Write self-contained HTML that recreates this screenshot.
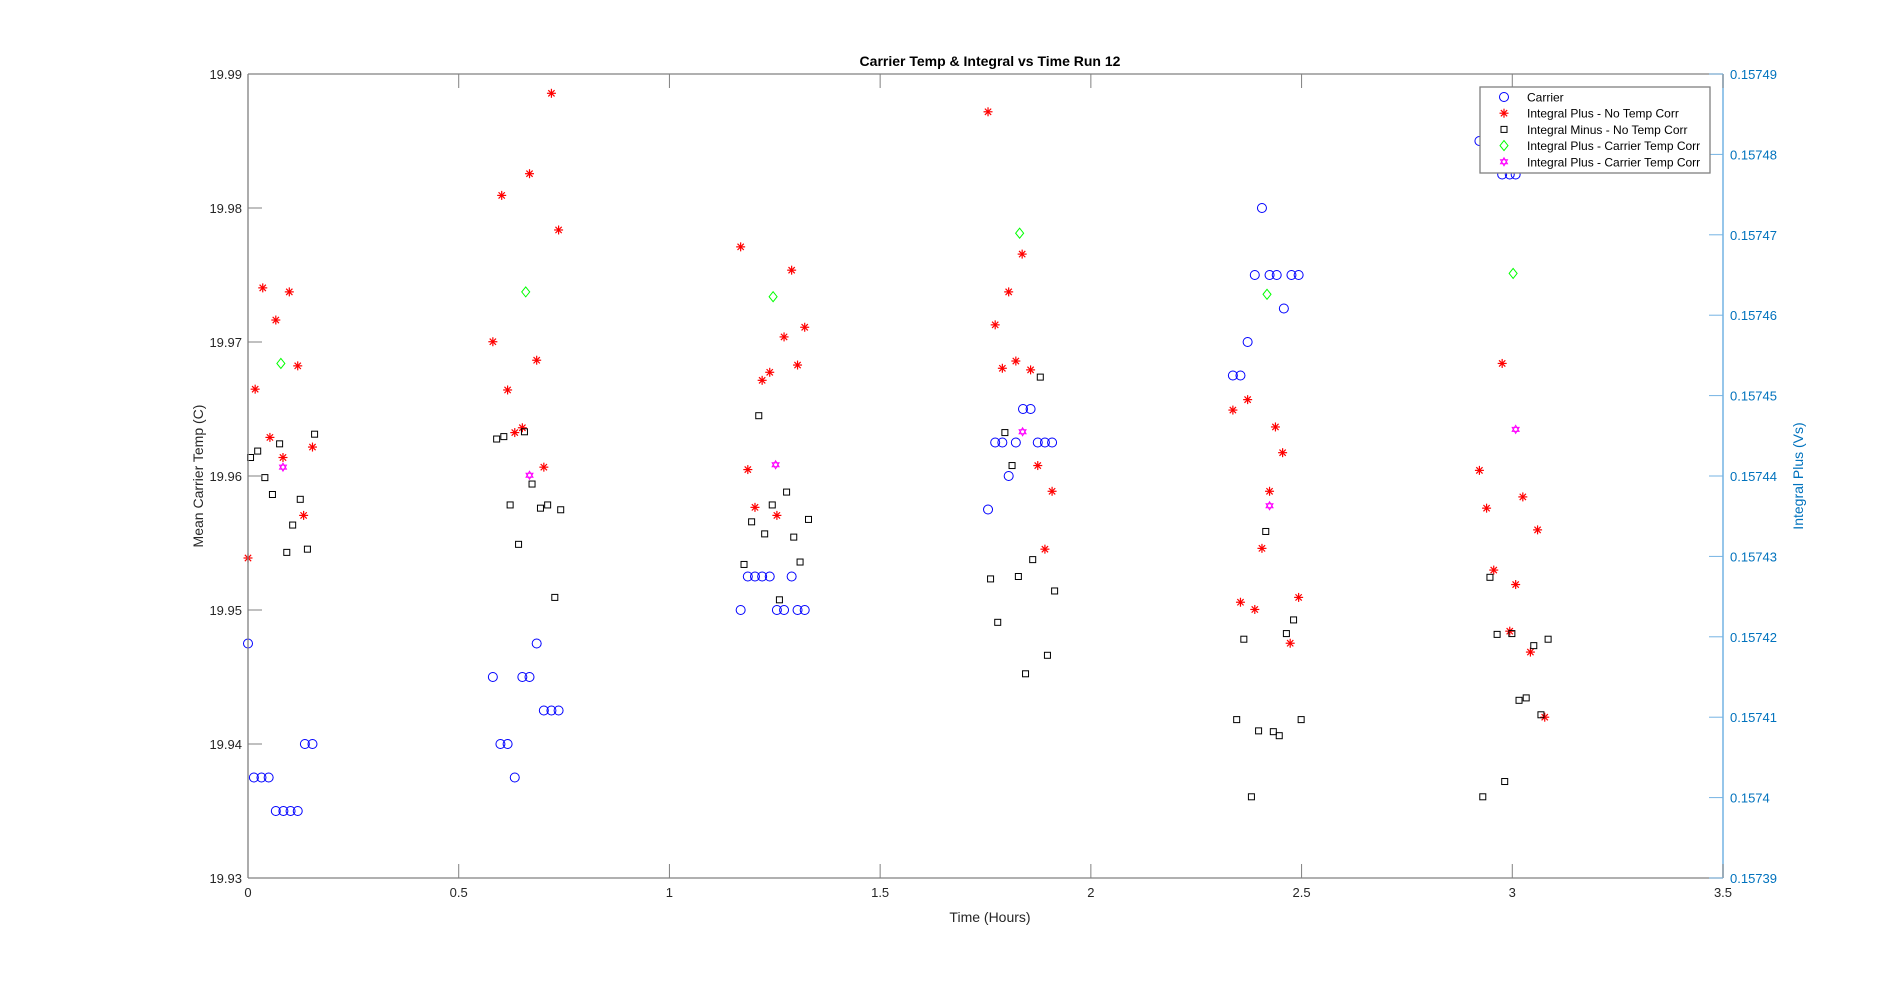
<!DOCTYPE html>
<html><head><meta charset="utf-8"><style>
html,body{margin:0;padding:0;background:#fff;}
svg{display:block;font-family:"Liberation Sans",Arial,sans-serif;}
</style></head><body>
<svg id="chart" width="1904" height="987" viewBox="0 0 1904 987" xmlns="http://www.w3.org/2000/svg">
<rect x="0" y="0" width="1904" height="987" fill="#fff"/>
<text x="990" y="66" text-anchor="middle" font-size="14" font-weight="bold" fill="#000">Carrier Temp &amp; Integral vs Time Run 12</text>
<g id="marks"></g>
<g id="axes"></g>
<text x="990" y="922" text-anchor="middle" font-size="14" fill="#262626">Time (Hours)</text>
<text x="0" y="0" transform="translate(203,476) rotate(-90)" text-anchor="middle" font-size="14" fill="#262626">Mean Carrier Temp (C)</text>
<text x="0" y="0" transform="translate(1803,476) rotate(-90)" text-anchor="middle" font-size="14" fill="#0072bd">Integral Plus (Vs)</text>
</svg>
<script>
const xTicks=[0,0.5,1,1.5,2,2.5,3,3.5];
const xTickLabels=["0","0.5","1","1.5","2","2.5","3","3.5"];
const yLeftTicks=[19.93,19.94,19.95,19.96,19.97,19.98,19.99];
const yLeftTickLabels=["19.93","19.94","19.95","19.96","19.97","19.98","19.99"];
const yRightTicks=[0.15739,0.1574,0.15741,0.15742,0.15743,0.15744,0.15745,0.15746,0.15747,0.15748,0.15749];
const yRightTickLabels=["0.15739","0.1574","0.15741","0.15742","0.15743","0.15744","0.15745","0.15746","0.15747","0.15748","0.15749"];

const carrierT=[0,0.014,0.032,0.049,0.066,0.084,0.101,0.118,0.135,0.153,
0.581,0.599,0.616,0.633,0.651,0.668,0.685,0.702,0.720,0.737,
1.169,1.186,1.203,1.220,1.238,1.255,1.272,1.290,1.304,1.321,
1.756,1.773,1.790,1.805,1.822,1.839,1.857,1.874,1.891,1.908,
2.337,2.355,2.372,2.389,2.406,2.424,2.441,2.458,2.476,2.493,
2.922,2.976,2.994,3.008];
const carrierTemp=[19.9475,19.9375,19.9375,19.9375,19.935,19.935,19.935,19.935,19.94,19.94,
19.945,19.94,19.94,19.9375,19.945,19.945,19.9475,19.9425,19.9425,19.9425,
19.95,19.9525,19.9525,19.9525,19.9525,19.95,19.95,19.9525,19.95,19.95,
19.9575,19.9625,19.9625,19.96,19.9625,19.965,19.965,19.9625,19.9625,19.9625,
19.9675,19.9675,19.97,19.975,19.98,19.975,19.975,19.9725,19.975,19.975,
19.985,19.9825,19.9825,19.9825];

const plusT=[0,0.017,0.035,0.052,0.066,0.083,0.098,0.118,0.132,0.153,
0.581,0.602,0.616,0.633,0.651,0.668,0.685,0.702,0.720,0.737,
1.169,1.186,1.203,1.220,1.238,1.255,1.272,1.290,1.304,1.321,
1.756,1.773,1.790,1.805,1.822,1.837,1.857,1.874,1.891,1.908,
2.337,2.355,2.372,2.389,2.406,2.424,2.438,2.455,2.473,2.493,
2.922,2.939,2.956,2.976,2.994,3.008,3.025,3.043,3.060,3.077];
const plusV=[0.1574298,0.1574508,0.1574634,0.1574448,0.1574594,0.1574423,0.1574629,0.1574537,0.1574351,0.1574436,
0.1574567,0.1574749,0.1574507,0.1574454,0.1574460,0.1574776,0.1574544,0.1574411,0.1574876,0.1574706,
0.1574685,0.1574408,0.1574361,0.1574519,0.1574529,0.1574351,0.1574573,0.1574656,0.1574538,0.1574585,
0.1574853,0.1574588,0.1574534,0.1574629,0.1574543,0.1574676,0.1574532,0.1574413,0.1574309,0.1574381,
0.1574482,0.1574243,0.1574495,0.1574234,0.1574310,0.1574381,0.1574461,0.1574429,0.1574192,0.1574249,
0.1574407,0.1574360,0.1574283,0.1574540,0.1574207,0.1574265,0.1574374,0.1574181,0.1574333,0.1574100];

const minusT=[0.006,0.023,0.040,0.058,0.075,0.092,0.106,0.124,0.141,0.158,
0.590,0.607,0.622,0.642,0.656,0.674,0.694,0.711,0.728,0.742,
1.177,1.195,1.212,1.226,1.244,1.261,1.278,1.295,1.310,1.330,
1.762,1.779,1.796,1.813,1.828,1.845,1.862,1.880,1.897,1.914,
2.346,2.363,2.381,2.398,2.415,2.433,2.447,2.464,2.481,2.499,
2.930,2.947,2.964,2.982,2.999,3.016,3.033,3.051,3.068,3.085];
const minusV=[0.1574423,0.1574431,0.1574398,0.1574377,0.1574440,0.1574305,0.1574339,0.1574371,0.1574309,0.1574452,
0.1574446,0.1574449,0.1574364,0.1574315,0.1574455,0.1574390,0.1574360,0.1574364,0.1574249,0.1574358,
0.1574290,0.1574343,0.1574475,0.1574328,0.1574364,0.1574246,0.1574380,0.1574324,0.1574293,0.1574346,
0.1574272,0.1574218,0.1574454,0.1574413,0.1574275,0.1574154,0.1574296,0.1574523,0.1574177,0.1574257,
0.1574097,0.1574197,0.1574001,0.1574083,0.1574331,0.1574082,0.1574077,0.1574204,0.1574221,0.1574097,
0.1574001,0.1574274,0.1574203,0.1574020,0.1574204,0.1574121,0.1574124,0.1574189,0.1574103,0.1574197];

const corrT=[0.078,0.659,1.246,1.831,2.418,3.002];
const corrV=[0.1574540,0.1574629,0.1574623,0.1574702,0.1574626,0.1574652];
const corr2T=[0.083,0.668,1.252,1.838,2.424,3.008];
const corr2V=[0.1574411,0.1574401,0.1574414,0.1574455,0.1574363,0.1574458];

const L=248,R=1723,T=74,B=878;
const NS="http://www.w3.org/2000/svg";
const xS=v=>L+(v-0)/(3.5-0)*(R-L);
const yL=v=>B-(v-19.93)/(19.99-19.93)*(B-T);
const yR=v=>B-(v-0.15739)/(0.15749-0.15739)*(B-T);
function mk(tag,attrs,parent){const e=document.createElementNS(NS,tag);for(const k in attrs)e.setAttribute(k,attrs[k]);parent.appendChild(e);return e;}
const marks=document.getElementById('marks'),axes=document.getElementById('axes');

function circle(g,x,y){const e=mk('circle',{cx:x,cy:y,r:4.5,fill:'none',stroke:'#0000ff','stroke-width':1},g);return e;}
function star(g,x,y,s){const gg=mk('g',{stroke:'#ff0000','stroke-width':1.2},g);
 mk('line',{x1:x-s,y1:y,x2:x+s,y2:y},gg);mk('line',{x1:x,y1:y-s,x2:x,y2:y+s},gg);
 const d=s*0.7;mk('line',{x1:x-d,y1:y-d,x2:x+d,y2:y+d},gg);mk('line',{x1:x-d,y1:y+d,x2:x+d,y2:y-d},gg);return gg;}
function square(g,x,y){return mk('rect',{x:x-3,y:y-3,width:6,height:6,fill:'none',stroke:'#000','stroke-width':1},g);}
function diamond(g,x,y){return mk('polygon',{points:`${x},${y-5} ${x+4},${y} ${x},${y+5} ${x-4},${y}`,fill:'none',stroke:'#00ff00','stroke-width':1},g);}
function hexa(g,x,y){const r=4;const p1=[],p2=[];for(let i=0;i<3;i++){const a1=-Math.PI/2+i*2*Math.PI/3,a2=Math.PI/2+i*2*Math.PI/3;p1.push((x+r*Math.cos(a1))+','+(y+r*Math.sin(a1)));p2.push((x+r*Math.cos(a2))+','+(y+r*Math.sin(a2)));}
 const gg=mk('g',{fill:'none',stroke:'#ff00ff','stroke-width':1},g);mk('polygon',{points:p1.join(' ')},gg);mk('polygon',{points:p2.join(' ')},gg);return gg;}

carrierT.forEach((t,i)=>{const e=circle(marks,xS(t),yL(carrierTemp[i]));

});
plusT.forEach((t,i)=>{const e=star(marks,xS(t),yR(plusV[i]),4.5);

});
minusT.forEach((t,i)=>{const e=square(marks,xS(t),yR(minusV[i]));

});
corrT.forEach((t,i)=>{const e=diamond(marks,xS(t),yR(corrV[i]));

});
corr2T.forEach((t,i)=>{const e=hexa(marks,xS(t),yR(corr2V[i]));

});

// axes
const gray='#808080',blue='#0072bd',blueLine='#74b3e3';
let e;
e=mk('line',{x1:L,y1:T,x2:R,y2:T,stroke:gray,'stroke-width':1.3},axes);


e=mk('line',{x1:L,y1:B,x2:R,y2:B,stroke:gray,'stroke-width':1.3},axes);


e=mk('line',{x1:L,y1:T,x2:L,y2:B,stroke:gray,'stroke-width':1.3},axes);


e=mk('line',{x1:R,y1:T,x2:R,y2:B,stroke:blueLine,'stroke-width':1.5},axes);


xTicks.forEach((v,i)=>{const x=xS(v);
 mk('line',{x1:x,y1:B,x2:x,y2:B-14,stroke:gray,'stroke-width':1},axes);
 mk('line',{x1:x,y1:T,x2:x,y2:T+14,stroke:gray,'stroke-width':1},axes);
 const t=mk('text',{x:x,y:B+19,'text-anchor':'middle','font-size':13,fill:'#262626'},axes);t.textContent=xTickLabels[i];
 
 });
yLeftTicks.forEach((v,i)=>{const y=yL(v);
 mk('line',{x1:L,y1:y,x2:L+14,y2:y,stroke:gray,'stroke-width':1},axes);
 const t=mk('text',{x:L-6,y:y+5,'text-anchor':'end','font-size':13,fill:'#262626'},axes);t.textContent=yLeftTickLabels[i];
 
 });
yRightTicks.forEach((v,i)=>{const y=yR(v);
 mk('line',{x1:R,y1:y,x2:R-14,y2:y,stroke:blueLine,'stroke-width':1},axes);
 const t=mk('text',{x:R+7,y:y+5,'text-anchor':'start','font-size':13,fill:blue},axes);t.textContent=yRightTickLabels[i];
 
 });

// legend
const lg=mk('g',{},axes);


mk('rect',{x:1480,y:87,width:230,height:86,fill:'#fff',stroke:'#808080','stroke-width':1.3},lg);
const labels=["Carrier","Integral Plus -  No Temp Corr","Integral Minus -  No Temp Corr","Integral Plus -  Carrier Temp Corr","Integral Plus -  Carrier Temp Corr"];
const drawers=[(g,x,y)=>circle(g,x,y),(g,x,y)=>star(g,x,y,4.5),(g,x,y)=>square(g,x,y),(g,x,y)=>diamond(g,x,y),(g,x,y)=>hexa(g,x,y)];
labels.forEach((lab,i)=>{const y=97+i*16.2;
 const ent=mk('g',{},lg);
 
 
 drawers[i](ent,1504,y);
 const t=mk('text',{x:1527,y:y+4.5,'font-size':12,fill:'#000'},ent);t.textContent=lab;});
</script>
</body></html>
